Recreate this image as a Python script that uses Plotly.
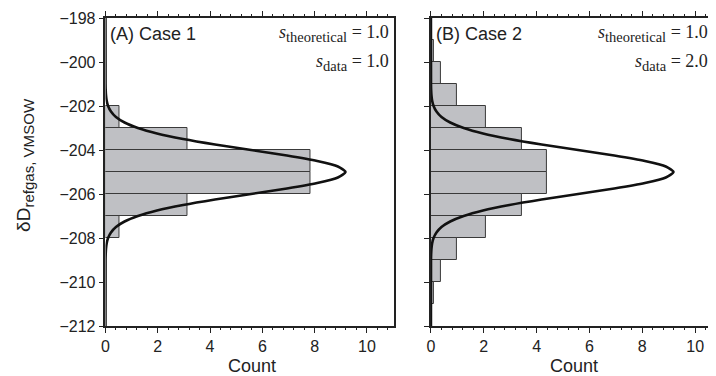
import plotly.graph_objects as go

# ---- data ----
bin_dD_1 = [-202.5, -203.5, -204.5, -205.5, -206.5, -207.5]
count_1 = [0.52, 3.14, 7.86, 7.86, 3.14, 0.52]

bin_dD_2 = [-199.5, -200.5, -201.5, -202.5, -203.5, -204.5,
            -205.5, -206.5, -207.5, -208.5, -209.5, -210.5]
count_2 = [0.12, 0.38, 1.0, 2.1, 3.43, 4.4, 4.4, 3.43, 2.1, 1.0, 0.38, 0.12]

curve_dD = [-212.0, -209.0, -208.75, -208.5, -208.25, -208.0, -207.75, -207.5,
            -207.25, -207.0, -206.75, -206.5, -206.25, -206.0, -205.75, -205.5,
            -205.25, -205.0, -204.75, -204.5, -204.25, -204.0, -203.75, -203.5,
            -203.25, -203.0, -202.75, -202.5, -202.25, -202.0, -201.75, -201.5,
            -201.25, -201.0, -198.0]
curve_count = [0.0, 0.003, 0.008, 0.02, 0.045, 0.10, 0.21, 0.40,
               0.73, 1.24, 1.97, 2.97, 4.19, 5.57, 6.94, 8.10,
               8.89, 9.18, 8.89, 8.10, 6.94, 5.57, 4.19, 2.97,
               1.97, 1.24, 0.73, 0.40, 0.21, 0.10, 0.045, 0.02,
               0.008, 0.003, 0.0]

x_ticks = [0, 2, 4, 6, 8, 10]
y_ticks = [-212, -210, -208, -206, -204, -202, -200, -198]

panel_labels = ["(A) Case 1", "(B) Case 2"]
s_theoretical = ["1.0", "1.0"]
s_data = ["1.0", "2.0"]

BAR_FILL = "#bfc0c4"
BAR_LINE = "#3a3a3a"
AX = "#222222"
SANS = "Liberation Sans, Arial, sans-serif"
SERIF = "Liberation Serif, Times New Roman, serif"

# the page body has an 8px margin: the figure is drawn from (8, 8)
OFF = 8
W, H = 716 - OFF, 376 - OFF
T, B = 18 - OFF, 50


def py(p):  # reference pixel y -> paper
    return (376 - B - p) / (H - T - B)


def px(p):  # reference pixel x -> paper
    return (p - OFF) / W


fig = go.Figure()
for i, (yy, xx) in enumerate([(bin_dD_1, count_1), (bin_dD_2, count_2)]):
    xa = "x" if i == 0 else "x2"
    ya = "y" if i == 0 else "y2"
    fig.add_trace(go.Bar(y=yy, x=xx, orientation="h", width=1.0,
                         marker=dict(color=BAR_FILL, line=dict(color=BAR_LINE, width=1)),
                         xaxis=xa, yaxis=ya, showlegend=False))
    fig.add_trace(go.Scatter(y=curve_dD, x=curve_count, mode="lines",
                             line=dict(color="#111111", width=2.6, shape="spline", smoothing=0.6),
                             xaxis=xa, yaxis=ya, showlegend=False))

XMAX1, XMAX2 = 11.03, 10.79
common_x = dict(tickvals=x_ticks, ticks="outside", ticklen=5, tickwidth=1.2,
                tickcolor=AX, showline=True, linecolor=AX, linewidth=1.5, mirror="allticks",
                showgrid=False, zeroline=False,
                tickfont=dict(family=SANS, size=16, color=AX),
                minor=dict(dtick=0.4, ticks="outside", ticklen=2.5, tickcolor=AX, tickwidth=1))
common_y = dict(domain=[0, 1], range=[-212, -198], tickvals=y_ticks, ticks="outside", ticklen=5,
                tickwidth=1.2, tickcolor=AX, showline=True, linecolor=AX, linewidth=1.5,
                showgrid=False, zeroline=False)
fig.update_layout(
    width=W, height=H, margin=dict(l=0, r=0, t=T, b=B),
    plot_bgcolor="white", paper_bgcolor="white", bargap=0,
    xaxis=dict(domain=[px(102), px(392)], anchor="y", range=[0, XMAX1], **common_x),
    xaxis2=dict(domain=[px(429.3), 1.0], anchor="y2", range=[0, XMAX2], **common_x),
    yaxis=dict(anchor="x", mirror=True, tickfont=dict(family=SANS, size=16, color=AX), **common_y),
    yaxis2=dict(anchor="x2", showticklabels=False, **common_y),
)


def stext(sub, val):
    return ('<span style="font-size:18px"><i>s</i></span><sub>' + sub +
            '</sub><span style="font-size:18px"> = ' + val + '</span>')


ann = []
for i in range(2):
    xr = "x" if i == 0 else "x2"
    xmax = XMAX1 if i == 0 else XMAX2
    sh = -3 if i == 0 else -6
    ann.append(dict(xref=xr, yref="paper", x=0, y=py(34), xanchor="left", yanchor="middle",
                    xshift=3, text=panel_labels[i], showarrow=False,
                    font=dict(family=SANS, size=18, color=AX)))
    ann.append(dict(xref=xr, yref="paper", x=xmax, y=py(33.5), xanchor="right", yanchor="middle",
                    xshift=sh, showarrow=False, text=stext("theoretical", s_theoretical[i]),
                    font=dict(family=SERIF, size=20.7, color=AX)))
    ann.append(dict(xref=xr, yref="paper", x=xmax, y=py(62), xanchor="right", yanchor="middle",
                    xshift=sh, showarrow=False, text=stext("data", s_data[i]),
                    font=dict(family=SERIF, size=20.7, color=AX)))
ann.append(dict(xref="paper", yref="paper", x=px(249), y=py(366), xanchor="center", yanchor="middle",
                text="Count", showarrow=False, font=dict(family=SANS, size=18, color=AX)))
ann.append(dict(xref="paper", yref="paper", x=px(573), y=py(366), xanchor="center", yanchor="middle",
                text="Count", showarrow=False, font=dict(family=SANS, size=18, color=AX)))
ann.append(dict(xref="paper", yref="paper", x=px(21), y=py(165), xanchor="center", yanchor="middle",
                textangle=-90, showarrow=False,
                text='<span style="font-size:19px">δD</span><sub>refgas, VMSOW</sub>',
                font=dict(family=SANS, size=21.5, color=AX)))
fig.update_layout(annotations=ann)

fig.write_html("out.html",
               post_script="document.documentElement.style.overflow='hidden';"
                           "document.body.style.overflow='hidden';")
